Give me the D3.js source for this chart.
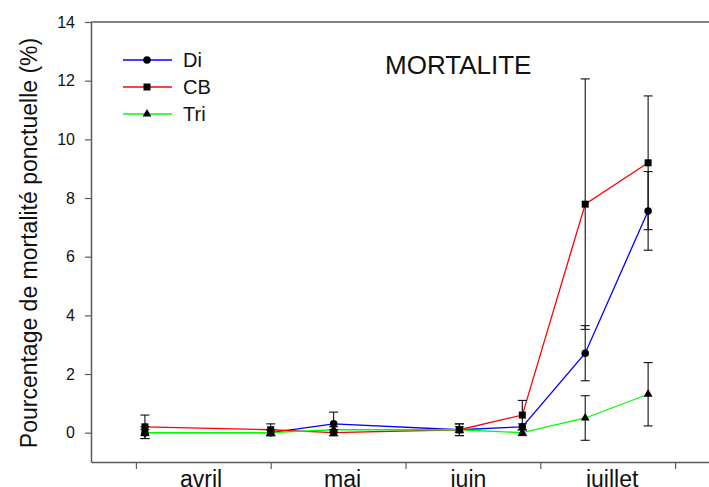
<!DOCTYPE html>
<html>
<head>
<meta charset="utf-8">
<script src="https://cdn.jsdelivr.net/npm/d3@7"></script>
<style>
  html, body { margin: 0; padding: 0; background: #fff; }
  svg { display: block; font-family: "Liberation Sans", Arial, Helvetica, sans-serif; }
</style>
</head>
<body>
<svg id="chart" width="709" height="487"></svg>
<script>
// Sampling days (day of year) for each observation
const sampleDays = [92, 120, 134, 162, 176, 190, 204];

// Mean point mortality (%) per treatment
const diValues  = [0, 0, 0.3, 0.1, 0.2, 2.71, 7.56];
const cbValues  = [0.2, 0.1, 0, 0.1, 0.6, 7.79, 9.2];
const triValues = [0, 0, 0.1, 0.1, 0, 0.5, 1.31];

// Error bar half-widths (%)
const diErrors  = [0.2, 0.1, 0.4, 0.2, 0.1, 0.94, 1.34];
const cbErrors  = [0.4, 0.2, 0.1, 0.2, 0.5, 4.27, 2.28];
const triErrors = [0.1, 0.1, 0.1, 0.1, 0.1, 0.76, 1.08];

// Axis ticks
const yTicks = [0, 2, 4, 6, 8, 10, 12, 14];
const xTicks = [90, 120, 150, 180, 210];
const monthLabels = ["avril", "mai", "juin", "juillet"];
const monthDays = [104.5, 136, 164, 196];

const seriesNames = ["Di", "CB", "Tri"];

const series = [
  { name: seriesNames[0], values: diValues,  errors: diErrors,  color: "#0000ff", symbol: d3.symbolCircle,   size: 44 },
  { name: seriesNames[1], values: cbValues,  errors: cbErrors,  color: "#ff0000", symbol: d3.symbolSquare,   size: 49 },
  { name: seriesNames[2], values: triValues, errors: triErrors, color: "#00ff00", symbol: d3.symbolTriangle, size: 34 }
];

const svg = d3.select("#chart");
const plotLeft = 91, plotRight = 720, plotTop = 22, plotBottom = 462;

const x = d3.scaleLinear().domain([80, 220]).range([plotLeft, plotRight]);
const y = d3.scaleLinear().domain([-1, 14]).range([plotBottom, plotTop]);

const axisColor = "#5a5a5a";

// Frame: top line
svg.append("line")
  .attr("x1", plotLeft).attr("x2", plotRight)
  .attr("y1", plotTop).attr("y2", plotTop)
  .attr("stroke", axisColor).attr("stroke-width", 1.5);

// Y axis
const yAxis = svg.append("g")
  .attr("transform", `translate(${plotLeft},0)`)
  .call(d3.axisLeft(y).tickValues(yTicks).tickSize(6).tickPadding(10).tickSizeOuter(0));
yAxis.select(".domain").attr("stroke", axisColor).attr("stroke-width", 1.5);
yAxis.selectAll(".tick line").attr("stroke", axisColor).attr("stroke-width", 1.2);
yAxis.selectAll(".tick text").attr("font-size", 16).attr("fill", "#111")
  .attr("font-family", "Liberation Sans, Arial, sans-serif");

// X axis (unlabelled ticks every 30 days)
const xAxis = svg.append("g")
  .attr("transform", `translate(0,${plotBottom})`)
  .call(d3.axisBottom(x).tickValues(xTicks).tickSize(7).tickFormat("").tickSizeOuter(0));
xAxis.select(".domain").attr("stroke", axisColor).attr("stroke-width", 1.5);
xAxis.selectAll(".tick line").attr("stroke", axisColor).attr("stroke-width", 1.2);

// Month labels, sitting on the lower edge of the figure
svg.append("g").selectAll("text")
  .data(monthLabels)
  .join("text")
  .attr("x", (d, i) => x(monthDays[i]))
  .attr("y", 487)
  .attr("text-anchor", "middle")
  .attr("font-size", 23)
  .attr("fill", "#111")
  .text(d => d);

// Y axis title
svg.append("text")
  .attr("transform", `translate(37,243) rotate(-90)`)
  .attr("text-anchor", "middle")
  .attr("font-size", 23)
  .attr("fill", "#111")
  .text("Pourcentage de mortalité ponctuelle (%)");

// Chart title
svg.append("text")
  .attr("x", 385).attr("y", 74)
  .attr("font-size", 26)
  .attr("fill", "#111")
  .text("MORTALITE");

const line = d3.line()
  .x(d => x(d.day))
  .y(d => y(d.v));

const pts = s => sampleDays.map((day, i) => ({ day, v: s.values[i], e: s.errors[i] }));

// Series lines
series.forEach(s => {
  svg.append("path")
    .datum(pts(s))
    .attr("d", line)
    .attr("fill", "none")
    .attr("stroke", s.color)
    .attr("stroke-width", 1.3);
});

// Error bars
const cap = 4.5;
series.forEach(s => {
  const g = svg.append("g").attr("stroke", "#111").attr("stroke-width", 1.1).attr("fill", "none");
  pts(s).forEach(p => {
    const xp = x(p.day), y1 = y(p.v + p.e), y0 = y(p.v - p.e);
    g.append("line").attr("x1", xp).attr("x2", xp).attr("y1", y1).attr("y2", y0);
    g.append("line").attr("x1", xp - cap).attr("x2", xp + cap).attr("y1", y1).attr("y2", y1);
    g.append("line").attr("x1", xp - cap).attr("x2", xp + cap).attr("y1", y0).attr("y2", y0);
  });
});

// Markers
series.forEach(s => {
  svg.append("g").selectAll("path")
    .data(pts(s))
    .join("path")
    .attr("transform", p => `translate(${x(p.day)},${y(p.v)})`)
    .attr("d", d3.symbol().type(s.symbol).size(s.size))
    .attr("fill", "#000");
});

// Legend
const legend = svg.append("g");
series.forEach((s, i) => {
  const ly = 60 + i * 27;
  legend.append("line")
    .attr("x1", 123).attr("x2", 172).attr("y1", ly).attr("y2", ly)
    .attr("stroke", s.color).attr("stroke-width", 1.3);
  legend.append("path")
    .attr("transform", `translate(147,${ly})`)
    .attr("d", d3.symbol().type(s.symbol).size(s.size))
    .attr("fill", "#000");
  legend.append("text")
    .attr("x", 183).attr("y", ly + 7)
    .attr("font-size", 20)
    .attr("fill", "#111")
    .text(s.name);
});
</script>
</body>
</html>
